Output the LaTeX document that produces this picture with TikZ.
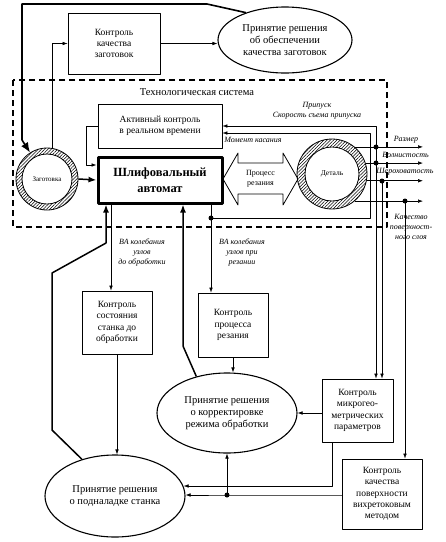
\documentclass[tikz,border=0pt]{standalone}
\usepackage{fontspec}
\setmainfont{Liberation Serif}
\usetikzlibrary{shapes.geometric,arrows.meta,patterns.meta}

\tikzset{
  box/.style={draw, line width=.8pt, align=center, inner sep=1pt, font=\fontsize{9.5}{11.3}\selectfont},
  choice/.style={ellipse, draw, line width=1.1pt, align=center, inner sep=0pt, font=\fontsize{10.5}{11.8}\selectfont},
  lbl/.style={align=center, inner sep=0pt, font=\fontsize{8}{10}\selectfont\itshape},
  arr/.style={-{Latex[length=5pt,width=3.6pt]}, line width=.6pt},
  bigarr/.style={-{Latex[length=8pt,width=6pt]}, line width=1.5pt},
  dot/.style={circle, fill, inner sep=0pt, minimum size=5pt},
  hatch/.style={pattern={Lines[angle=45,distance=2.3pt,line width=.5pt]}, even odd rule},
}

\begin{document}
\begin{tikzpicture}[x=1pt, y=-1pt, line join=round]
\useasboundingbox (0,0) rectangle (446,542);
% technological system
\draw[line width=1.4pt, dash pattern=on 6pt off 4pt] (13,80) rectangle (387,227);
\node[inner sep=0pt, font=\fontsize{10.5}{12}\selectfont] (ts) at (197,92) {Технологическая система};

% blocks
\node[box, minimum width=92pt, minimum height=61pt] (kz) at (114,43.5) {Контроль\\качества\\заготовок};
\node[choice, minimum width=134pt, minimum height=66pt] (pz) at (285,40) {Принятие решения\\об обеспечении\\качества заготовок};
\node[box, minimum width=124pt, minimum height=44pt] (ak) at (160,126) {Активный контроль\\в реальном времени};
\node[box, line width=3pt, minimum width=124pt, minimum height=46pt, font=\fontsize{12.5}{16}\selectfont\bfseries] (sa) at (160,180) {Шлифовальный\\автомат};

% rings
\node[circle, draw, line width=.8pt, minimum size=62pt, inner sep=0pt, font=\fontsize{7}{8}\selectfont] (zag) at (47,179) {Заготовка};
\fill[hatch] (zag.center) circle (31pt) circle (25pt);
\draw[line width=.8pt] (zag.center) circle (25pt);
\node[circle, draw, line width=.8pt, minimum size=70pt, inner sep=0pt, font=\fontsize{7.5}{8}\selectfont] (det) at (332,174) {Деталь};
\fill[hatch] (det.center) circle (35pt) circle (27pt);
\draw[line width=.8pt] (det.center) circle (27pt);

% cutting process
\draw[line width=.8pt] (223,179) -- (238,153) -- (238,163) -- (283,163) -- (283,153) -- (298,179)
  -- (283,205) -- (283,194) -- (238,194) -- (238,205) -- cycle;
\node[inner sep=0pt, align=center, font=\fontsize{8}{10}\selectfont] (pr) at (260.5,179) {Процесс\\резания};

\node[box, minimum width=70pt, minimum height=63pt] (ks) at (117,322.5) {Контроль\\состояния\\станка до\\обработки};
\node[box, minimum width=70pt, minimum height=64pt] (kp) at (233,325) {Контроль\\процесса\\резания};
\node[choice, minimum width=140pt, minimum height=80pt] (pk) at (227,413) {Принятие решения\\о корректировке\\режима обработки};
\node[choice, minimum width=140pt, minimum height=82pt] (pn) at (115,496) {Принятие решения\\о подналадке станка};
\node[box, minimum width=71pt, minimum height=63pt] (km) at (357.5,410.5) {Контроль\\микрогео-\\метрических\\параметров};
\node[box, minimum width=80pt, minimum height=70pt] (kv) at (382,494) {Контроль\\качества\\поверхности\\вихретоковым\\методом};

% labels
\node[lbl] (lpr) at (317,111) {Припуск\\Скорость съема припуска};
\node[lbl] (lmk) at (253,140) {Момент касания};
\node[lbl] (lr) at (406,140) {Размер};
\node[lbl] (lv) at (405.5,155) {Волнистость};
\node[lbl] (lsh) at (405,172) {Шероховатость};
\node[lbl] (lkp) at (411,227) {Качество\\поверхност-\\ного слоя};
\node[lbl] (lva1) at (142,252.5) {ВА колебания\\узлов\\до обработки};
\node[lbl] (lva2) at (242,252.5) {ВА колебания\\узлов при\\резании};

% points
\coordinate (rx) at (423,0);
\coordinate (x1) at (111,0);
\coordinate (d1) at (376,147);
\coordinate (d2) at (376,163);
\coordinate (d3) at (382,181);
\coordinate (d4) at (405,201);
\coordinate (d5) at (211,218);
\coordinate (d6) at (227,495);
\coordinate (m1) at (370,218);
\coordinate (e1) at (332,486);
\coordinate (t1) at (207,4);
\coordinate (t2) at (22,4);
\coordinate (t3) at (22,140);
\coordinate (b1) at (52,430);
\coordinate (b2) at (52,273);
\coordinate (b3) at (106,243);
\coordinate (b4) at (183,346);

% connectors
\draw[-{Latex[length=10pt,width=8pt]}, line width=1.6pt] (pz.145) -- (t1) -- (t2) -- (t3) -- (zag);
\draw[arr] (zag.81) |- (kz.west);
\draw[arr] (kz.east) -- (kz.east -| pz.west);
\draw[arr] (ak.west) -- ++(-11,0) |- ([yshift=15pt]sa.west);
\draw[bigarr] (zag.east) -- (sa.west);
\foreach \a in {50,18,-11,-50} \draw[arr] (det.\a) -- (det.\a -| rx);
\draw[arr] (d1) |- (ak.east);
\draw[arr] (d1) -- (d1 |- km.north);
\draw[arr] (d3) -- (d3 |- km.north);
\draw[arr] (d4) -- (d4 |- kv.north);
\draw[arr] (d5) -- (m1) |- ([yshift=-7pt]ak.east);
\draw[arr] (sa.south -| d5) -- (d5 |- kp.north);
\draw[arr] (sa.south -| x1) -- (x1 |- ks.north);
\draw[bigarr] (pn.132) -- (b1) -- (b2) -- (b3) -- (b3 |- sa.south);
\draw[bigarr] (pk.130) -- (b4) -- (b4 |- sa.south);
\draw[arr] (ks.south) -- (ks.south |- pn.north);
\draw[arr] (kp.south) -- (kp.south |- pk.north);
\draw[arr] (pk.east -| km.west) -- (pk.east);
\draw[arr] (km.south -| e1) -- (e1) -- (e1 -| pn.8);
\draw[arr] (kv.west |- d6) -- (d6) -- (d6 -| pn.east);
\draw[arr] (d6) -- (d6 |- pk.south);
\foreach \p in {d1,d2,d3,d4,d5,d6} \node[dot] (\p-dot) at (\p) {};
\end{tikzpicture}
\end{document}
